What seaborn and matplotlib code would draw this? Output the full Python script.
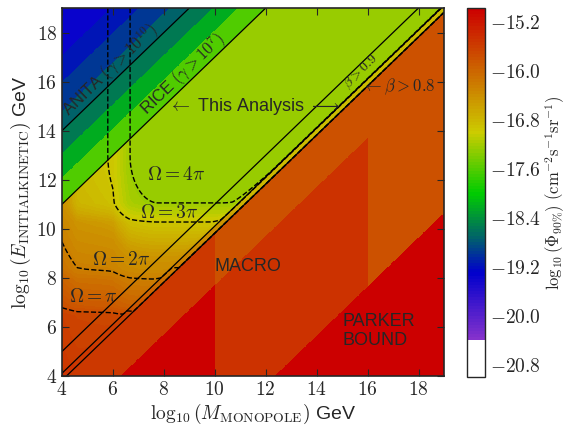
import numpy as np
import matplotlib
matplotlib.use("Agg")
import matplotlib.pyplot as plt
from matplotlib.colors import LinearSegmentedColormap
from matplotlib.ticker import FuncFormatter
import seaborn as sns

# solid lines E = M + offset (log10 gamma / beta thresholds)
line_offsets = [10.0, 7.0, 1.0, 0.112, -0.176]

# ANITA and RICE limits, banded in w = log10(E) - log10(M)
anita_w = [10.0, 10.8, 12.0, 13.1]
anita_flux = [-18.7, -18.95, -19.15, -19.35]
rice_w = [7.0, 8.1, 9.1]
rice_flux = [-17.6, -18.2, -18.55]

# this analysis: acceptance
omega_levels = [0.25, 0.5, 0.75, 0.9]
omega_names = [r"$\Omega = \pi$", r"$\Omega = 2\pi$", r"$\Omega = 3\pi$", r"$\Omega = 4\pi$"]
omega_pos = [(5.22, 7.22), (6.32, 8.73), (8.2, 10.65), (8.48, 12.19)]
e_knots = [4.0, 6.45, 6.8, 7.95, 8.35, 10.28, 11.05, 13.0]
e_accept = [0.17, 0.25, 0.36, 0.5, 0.58, 0.75, 0.9, 1.0]
m_knots = [3.0, 3.9, 4.6, 5.8, 6.0, 6.67, 7.8]
m_accept = [0.45, 0.6, 0.72, 0.75, 0.76, 0.9, 1.0]
w_knots = [-0.176, -0.175, 0.112, 0.113, 0.4, 0.9]
w_accept = [0.0, 0.72, 0.72, 0.9, 0.98, 1.0]
q_knots = [0.0, 0.25, 0.5, 0.62, 0.75, 0.9]
q_flux = [-15.4, -15.75, -16.25, -16.45, -16.95, -17.25]

# MACRO / Parker region (below beta > 0.8)
mass_edges = [10.0, 16.0]
w_cuts = [-2.3, -8.36]
macro_flux = [[-15.55, -14.98, -14.98],
              [-15.82, -15.48, -14.98],
              [-15.82, -15.82, -14.98]]

cbar_ticks = [-15.2, -16.0, -16.8, -17.6, -18.4, -19.2, -20.0, -20.8]
vmin, vmax = -21.0, -14.97

sns.set_style("ticks", {"xtick.direction": "in", "ytick.direction": "in"})
plt.rcParams["font.family"] = ["Liberation Sans", "DejaVu Sans"]
plt.rcParams["mathtext.fontset"] = "cm"

# build the field
m = np.linspace(4, 19, 800)
e = np.linspace(4, 19, 800)
M, E = np.meshgrid(m, e)
W = E - M
A = np.interp(M, m_knots, m_accept)
B = np.interp(E, e_knots, e_accept)
C = np.interp(W, w_knots, w_accept)
p = 2
q = 1 - ((1 - A) ** p + (1 - B) ** p + (1 - C) ** p) ** (1 / p)
q = np.clip(q, 0, 1)
Z = np.interp(q, q_knots, q_flux)

ri = np.clip(np.digitize(W, rice_w) - 1, 0, len(rice_w) - 1)
Z = np.where((W >= rice_w[0]) & (W < anita_w[0]), np.array(rice_flux)[ri], Z)
ai = np.clip(np.digitize(W, anita_w) - 1, 0, len(anita_w) - 1)
Z = np.where(W >= anita_w[0], np.array(anita_flux)[ai], Z)
mb = np.digitize(M, mass_edges)
wb = (W < w_cuts[0]).astype(int) + (W < w_cuts[1]).astype(int)
Z = np.where(W < line_offsets[-1], np.array(macro_flux)[mb, wb], Z)

# colormap: white block at the bottom, purple -> blue -> teal -> green -> yellow -> red
def pos(v):
    return (v - vmin) / (vmax - vmin)

cmap = LinearSegmentedColormap.from_list("flux", [
    (0.0, "white"), (pos(-20.42), "white"), (pos(-20.42) + 1e-4, "#8833cc"),
    (pos(-19.3), "#0000cc"), (pos(-18.7), "#006666"), (pos(-18.0), "#00cc00"),
    (pos(-17.0), "#cccc00"), (1.0, "#cc0000")], N=120)

fig = plt.figure(figsize=(5.71, 4.26), dpi=100)
ax = fig.add_axes([62 / 571, 50 / 426, 382 / 571, 368 / 426])
cax = fig.add_axes([467 / 571, 49 / 426, 18 / 571, 369 / 426])

im = ax.imshow(Z, origin="lower", extent=[4, 19, 4, 19], aspect="auto",
               cmap=cmap, vmin=vmin, vmax=vmax, interpolation="nearest")

for off in line_offsets:
    sns.lineplot(x=[4, 19], y=[4 + off, 19 + off], ax=ax, color="k", lw=0.9)

ax.contour(M, E, q, levels=omega_levels, colors="k", linestyles="--", linewidths=1.0)

ax.set_xlim(4, 19)
ax.set_ylim(4, 19)
ax.set_xticks(range(4, 19, 2))
ax.set_yticks(range(4, 19, 2))
fmt = FuncFormatter(lambda v, _: f"${v:g}$")
ax.xaxis.set_major_formatter(fmt)
ax.yaxis.set_major_formatter(fmt)
ax.tick_params(top=True, right=True, labelsize=14, length=5, width=0.8)
for s in ax.spines.values():
    s.set_linewidth(1.2)

ax.set_xlabel(r"$\log_{10}(M_{\mathrm{MONOPOLE}})$ GeV", fontsize=14, labelpad=2)
ax.set_ylabel(r"$\log_{10}(E_{\mathrm{INITIALKINETIC}})$ GeV", fontsize=14, labelpad=2)

rot = dict(rotation=45, transform_rotates_text=True, rotation_mode="anchor",
           ha="center", va="center")
ax.text(5.9, 16.45, r"ANITA $(\gamma > 10^{10})$", fontsize=12, **rot)
ax.text(8.75, 16.3, r"RICE $(\gamma > 10^{7})$", fontsize=12, **rot)
ax.text(15.74, 16.39, r"$\beta > 0.9$", fontsize=10, **rot)
ax.text(11.54, 14.97, r"$\leftarrow$ This Analysis $\longrightarrow$", fontsize=13,
        ha="center", va="center")
ax.text(17.2, 15.78, r"$\leftarrow \beta > 0.8$", fontsize=12, ha="center", va="center")
for name, (x, y) in zip(omega_names, omega_pos):
    ax.text(x, y, name, fontsize=14, ha="center", va="center")
ax.text(11.3, 8.48, "MACRO", fontsize=13, ha="center", va="center")
ax.text(15.03, 5.83, "PARKER\nBOUND", fontsize=13, ha="left", va="center", linespacing=1.15)

cb = fig.colorbar(im, cax=cax, ticks=cbar_ticks)
cb.ax.yaxis.set_major_formatter(FuncFormatter(lambda v, _: f"${v:.1f}$"))
cb.ax.tick_params(labelsize=14, direction="in", length=5)
cb.outline.set_linewidth(1.0)
cb.set_label(r"$\log_{10}(\Phi_{90\%})\ (\mathrm{cm}^{-2}\mathrm{s}^{-1}\mathrm{sr}^{-1})$",
             fontsize=12, labelpad=2)

fig.savefig("out.png", dpi=100)
